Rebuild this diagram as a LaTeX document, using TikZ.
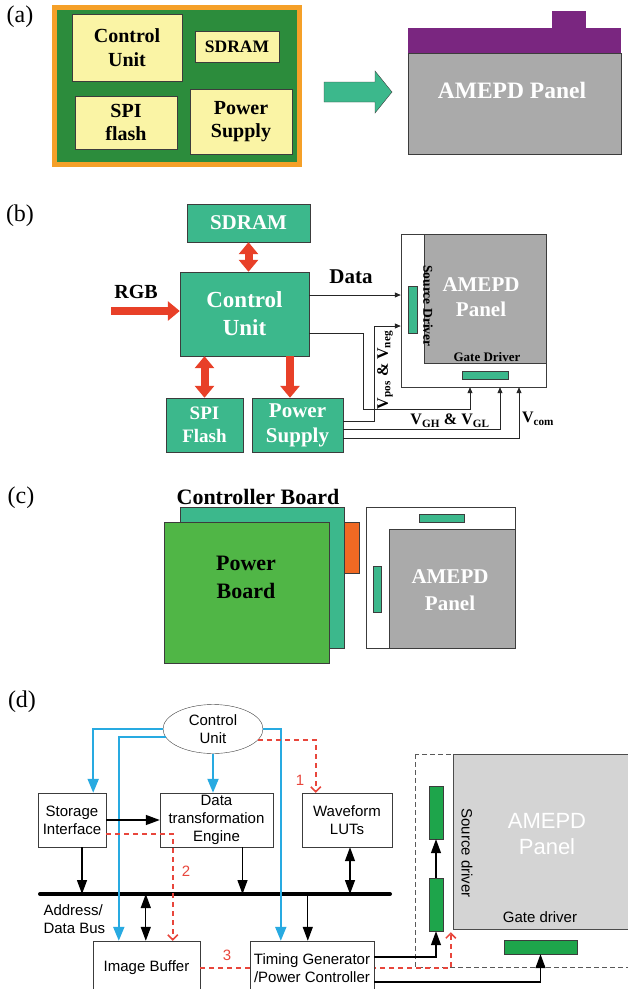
\documentclass[tikz,border=0pt]{standalone}
\usepackage{fontspec}
\setmainfont{Liberation Serif}
\newfontfamily\arialfont{Liberation Sans}
\usetikzlibrary{arrows.meta, positioning, shapes.geometric, calc}
\definecolor{pcbgreen}{RGB}{44,140,60}
\definecolor{pcborange}{RGB}{245,160,40}
\definecolor{chipyellow}{RGB}{250,244,165}
\definecolor{boardteal}{RGB}{60,184,140}
\definecolor{arrowred}{RGB}{232,64,40}
\definecolor{panelgray}{RGB}{170,170,170}
\definecolor{fpcpurple}{RGB}{122,38,128}
\definecolor{powergreen}{RGB}{80,182,70}
\definecolor{connorange}{RGB}{240,105,35}
\definecolor{linkblue}{RGB}{40,170,225}
\definecolor{dashred}{RGB}{232,70,60}
\definecolor{drivergreen}{RGB}{30,165,75}
\definecolor{lightpanel}{RGB}{212,212,212}
\definecolor{edgedark}{RGB}{60,60,60}

\begin{document}
\begin{tikzpicture}[
    x=1pt, y=-1pt,
    tag/.style={font=\fontsize{24}{24}\selectfont},
    chip/.style={draw=edgedark, fill=chipyellow, inner sep=0pt, align=center,
        font=\bfseries\fontsize{20}{23.5}\selectfont},
    tealbox/.style={draw=edgedark, fill=boardteal, text=white, inner sep=0pt, align=center},
    paneltext/.style={text=white, align=center},
    fatsingle/.style={arrowred, line width=8pt, -{Triangle[width=19pt,length=12pt]}},
    fatdouble/.style={arrowred, line width=8pt,
        {Triangle[width=19pt,length=12pt]}-{Triangle[width=19pt,length=12pt]}},
    wire/.style={black!85, line width=0.8pt, -{Triangle[width=5pt,length=6pt]}},
    blk/.style={line width=1.3pt, -{Triangle[width=10pt,length=14pt]}},
    blkdbl/.style={line width=1.3pt,
        {Triangle[width=10pt,length=14pt]}-{Triangle[width=10pt,length=14pt]}},
    bluelink/.style={linkblue, line width=2pt, -{Triangle[width=11pt,length=14pt]}},
    reddash/.style={dashred, line width=1.5pt, dash pattern=on 5pt off 4pt,
        -{Straight Barb[width=10pt,length=5pt]}},
    sansbox/.style={draw=edgedark, fill=white, inner sep=0pt, align=center,
        font=\arialfont\fontsize{15}{18}\selectfont},
    sanstext/.style={font=\arialfont\fontsize{15}{18}\selectfont},
    driver/.style={draw=edgedark, fill=drivergreen, inner sep=0pt}
]
\path[use as bounding box, clip] (0,0) rectangle (628,989);

% (a) controller board and panel
\node[tag] (tag-a) at (20,17) {(a)};
\draw[pcborange, line width=5pt, fill=pcbgreen] (54.5,7.5) rectangle (299.5,164.5);
\node[chip, minimum width=110pt, minimum height=67pt] (a-cu) at (127,47.5) {Control\\Unit};
\node[chip, minimum width=84pt, minimum height=31pt,
    font=\bfseries\fontsize{17.5}{20}\selectfont] (a-sdram) at (237,46.5) {SDRAM};
\node[chip, minimum width=102pt, minimum height=53pt] (a-spi) at (126,122.5) {SPI\\flash};
\node[chip, minimum width=102pt, minimum height=65pt] (a-pwr) at (241,121.5) {Power\\Supply};
\draw[edgedark, fill=boardteal] (324,82) -- (375,82) -- (375,71) -- (392,92)
    -- (375,113) -- (375,102) -- (324,102) -- cycle;
\fill[fpcpurple] (552,11) rectangle (586,28);
\fill[fpcpurple] (408,28) rectangle (621,53);
\draw[edgedark, fill=panelgray] (408,53) rectangle (621,154);
\node[paneltext, font=\bfseries\fontsize{23.5}{26}\selectfont] (a-panel) at (512,90) {AMEPD Panel};

% (b) block diagram
\node[tag] (tag-b) at (20,216) {(b)};
\node[tealbox, minimum width=123pt, minimum height=38pt,
    font=\bfseries\fontsize{21}{21}\selectfont] (b-sdram) at (248.5,223) {SDRAM};
\node[tealbox, minimum width=129pt, minimum height=84pt,
    font=\bfseries\fontsize{23}{28}\selectfont] (b-cu) at (244.5,314) {Control\\Unit};
\node[tealbox, minimum width=77pt, minimum height=54pt,
    font=\bfseries\fontsize{19}{23}\selectfont] (b-spi) at (204.5,425) {SPI\\Flash};
\node[tealbox, minimum width=91pt, minimum height=54pt,
    font=\bfseries\fontsize{21}{25}\selectfont] (b-pwr) at (297.5,425) {Power\\Supply};
\node[font=\bfseries\fontsize{20}{20}\selectfont] (b-rgb) at (136,292) {RGB};
\coordinate (rgbin) at (111,311);
\coordinate (pwrin) at ([xshift=-7.5pt]b-pwr.north);
\draw[fatsingle] (rgbin) -- (b-cu.west |- rgbin);
\draw[fatdouble] (b-sdram.south) -- (b-sdram.south |- b-cu.north);
\draw[fatdouble] (b-spi.north |- b-cu.south) -- (b-spi.north);
\draw[fatsingle] (pwrin |- b-cu.south) -- (pwrin);

\node[draw=edgedark, fill=white, minimum width=145pt, minimum height=153pt,
    inner sep=0pt] (b-panel) at (473.5,310.5) {};
\draw[edgedark, fill=panelgray] ([xshift=23pt]b-panel.north west)
    rectangle ([yshift=24pt]b-panel.south east);
\node[driver, fill=boardteal, minimum width=9pt, minimum height=47pt] (b-src) at (412.5,309.5) {};
\node[driver, fill=boardteal, minimum width=46pt, minimum height=8pt] (b-gate) at (485,375) {};
\node[paneltext, font=\bfseries\fontsize{21}{25}\selectfont] (b-amepd) at (481,297) {AMEPD\\Panel};
\node[rotate=-90, font=\bfseries\fontsize{13.5}{14}\selectfont] (b-srclabel) at (428,306) {Source Driver};
\node[font=\bfseries\fontsize{13}{14}\selectfont] (b-gatelabel) at (487,357) {Gate Driver};

\draw[wire] ([yshift=19pt]b-cu.east) -- ([yshift=19pt]b-cu.east -| b-panel.west);
\node[font=\bfseries\fontsize{21}{21}\selectfont] (b-data) at (351,277) {Data};
\draw[wire] ([yshift=-19pt]b-cu.east) -| ++(54,76) -| ([xshift=-3.5pt]b-panel.south);
\draw[wire] ([yshift=4pt]b-pwr.east) -| ++(31,-95) -- (b-panel.west |- 0,326);
\draw[wire] ([yshift=-4pt]b-pwr.east) -| ([xshift=26.5pt]b-panel.south);
\draw[wire] ([yshift=-13pt]b-pwr.east) -| ([xshift=45.5pt]b-panel.south);
\node[rotate=90, font=\bfseries\fontsize{16}{16}\selectfont] (b-vpos)
    at (385,370) {V\textsubscript{pos} \& V\textsubscript{neg}};
\node[font=\bfseries\fontsize{16}{16}\selectfont] (b-vgh) at (450,421) {V\textsubscript{GH} \& V\textsubscript{GL}};
\node[font=\bfseries\fontsize{16}{16}\selectfont] (b-vcom) at (538,419) {V\textsubscript{com}};

% (c) module stack
\node[tag] (tag-c) at (21,498) {(c)};
\node[font=\bfseries\fontsize{22}{22}\selectfont] (c-title) at (258,497) {Controller Board};
\draw[edgedark, fill=boardteal] (180,507) rectangle (344,648);
\draw[edgedark, fill=connorange] (344,522) rectangle (359,573);
\draw[edgedark, fill=powergreen] (164,522) rectangle (329,663);
\node[align=center, font=\bfseries\fontsize{22}{28}\selectfont] (c-power) at (246,577) {Power\\Board};
\draw[edgedark, fill=white] (366,507) rectangle (515,648);
\draw[edgedark, fill=panelgray] (389,529) rectangle (515,648);
\draw[edgedark, fill=boardteal] (419,514) rectangle (464,522);
\draw[edgedark, fill=boardteal] (373,566) rectangle (381,612);
\node[paneltext, font=\bfseries\fontsize{21}{27}\selectfont] (c-panel) at (450,590) {AMEPD\\Panel};

% (d) controller architecture
\node[tag] (tag-d) at (22,702) {(d)};
\node[draw=edgedark, ellipse, minimum width=100pt, minimum height=49pt, inner sep=0pt,
    align=center, sanstext] (d-cu) at (213,729) {Control\\Unit};
\node[sansbox, minimum width=68pt, minimum height=54pt] (d-si) at (72,820) {Storage\\Interface};
\node[sansbox, minimum width=113pt, minimum height=54pt] (d-dte) at (216.5,820) {Data\\transformation\\Engine};
\node[sansbox, minimum width=90pt, minimum height=54pt] (d-lut) at (347,820) {Waveform\\LUTs};

\draw[gray!70!black, line width=1pt, dash pattern=on 5pt off 3pt] (415,754) rectangle (640,967);
\node[draw=gray!60!black, fill=lightpanel, minimum width=187pt, minimum height=175pt,
    inner sep=0pt] (d-panel) at (546.5,841.5) {};
\node[paneltext, font=\arialfont\fontsize{22}{26}\selectfont] (d-amepd) at (547,834) {AMEPD\\Panel};
\node[rotate=-90, sanstext] (d-srclabel) at (467,853) {Source driver};
\node[sanstext] (d-gatelabel) at (540,917) {Gate driver};
\node[driver, minimum width=14pt, minimum height=53pt] (sb1) at (436,812.5) {};
\node[driver, minimum width=14pt, minimum height=53pt] (sb2) at (436,904.5) {};
\node[driver, minimum width=73pt, minimum height=14pt] (gb) at (540.5,947) {};
\coordinate (pc) at ([xshift=-2pt,yshift=-3pt]d-panel.south west);

\coordinate (busL) at (40,894);
\coordinate (busR) at (390,894);
\draw[line width=4pt, line cap=round] (busL) -- (busR);
\node[sanstext, align=left, anchor=west] (d-bus) at (40,919) {Address/\\Data Bus};

\node[sansbox, minimum width=107pt, minimum height=54pt] (d-ib) at (146.5,968) {Image Buffer};
\draw[reddash] (d-ib.east) -| (pc);
\node[sansbox, minimum width=124pt, minimum height=54pt] (d-tg) at (312,968) {Timing Generator\\/Power Controller};

\coordinate (siport) at ([xshift=10pt]d-si.south);
\coordinate (dteport) at ([xshift=26pt]d-dte.south);
\coordinate (lutport) at ([xshift=3pt]d-lut.south);
\coordinate (ibport) at ([xshift=53pt]d-ib.north west);
\coordinate (tgport) at ([xshift=58pt]d-tg.north west);

\draw[bluelink] (d-cu.west) -| ([xshift=-13pt]d-si.north east);
\draw[bluelink] (d-cu.190) -| ([xshift=26pt]d-ib.north west);
\draw[bluelink] (d-cu.east) -| ([xshift=31pt]d-tg.north west);
\draw[bluelink] (d-cu.south) -- (d-cu.south |- d-dte.north);
\draw[reddash] (d-cu.-14) -| ([xshift=14pt]d-lut.north west);
\draw[reddash] ([yshift=-14pt]d-si.east) -| ([xshift=80pt]d-ib.north west);

\draw[blk] (d-si.east) -- (d-dte.west);
\draw[blk] (siport) -- (siport |- busL);
\draw[blk] (dteport) -- (dteport |- busL);
\draw[blkdbl] (lutport) -- (lutport |- busL);
\draw[blkdbl] (ibport |- busL) -- (ibport);
\draw[blk] (tgport |- busL) -- (tgport);
\draw[blk] ([yshift=11pt]d-tg.east) -| (sb2.south);
\draw[blk] (sb2.north) -- (sb1.south);
\draw[blk] ([yshift=-14pt]d-tg.east) -| (gb.south);

\node[sanstext, text=dashred] (d-step1) at (300,780) {1};
\node[sanstext, text=dashred] (d-step2) at (186,871) {2};
\node[sanstext, text=dashred] (d-step3) at (227,955) {3};

\end{tikzpicture}
\end{document}
